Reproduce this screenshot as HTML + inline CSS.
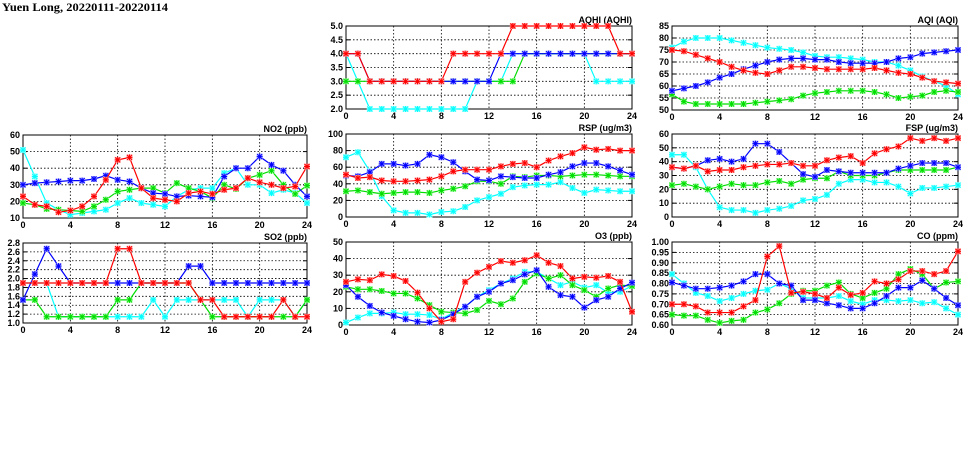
<!DOCTYPE html>
<html><head><meta charset="utf-8"><style>
body{margin:0;background:#fff;width:975px;height:447px;overflow:hidden}
svg text{font-family:"Liberation Sans",sans-serif;font-weight:bold;font-size:9px;fill:#000}
</style></head><body>
<svg id="s" width="975" height="447" xmlns="http://www.w3.org/2000/svg">
<text x="2" y="11" style="font-family:'Liberation Serif',serif;font-size:12px" textLength="166" lengthAdjust="spacingAndGlyphs">Yuen Long, 20220111-20220114</text>
</svg>
<script>
const C={r:"#ff0000",b:"#0000ff",g:"#00dd00",c:"#00ffff"};
const L={r:"#ffaaaa",b:"#aaaaff",g:"#aaffaa",c:"#aaffff"};
const P=[
{t:"NO2 (ppb)",x0:23,x1:307,y0:135,y1:218,min:10,max:60,step:10,dec:0,s:{
c:[51,35,19,15,12,13,14,15,19,22,19,18,17,23,27,28,28,37,40,30,30,25,27,25,19],
b:[30,31,31.5,32,32.5,32.5,33.5,35.5,33,32,28,25,24.5,23,23.5,23,22.5,35,40,40,47,42,38.5,30,23],
g:[19,18,15.5,15,14.5,14,17,21,26,27,28,28,25,31,28,26,22,30,27.5,34,36,38.5,30,24.5,29.5],
r:[23,18,17,13.5,14.5,17,23,33,45,46.5,28,22,21,20,25,26,24.5,27,28,34,31.5,30,28,29,41]}},
{t:"SO2 (ppb)",x0:23,x1:307,y0:243,y1:323,min:1,max:2.8,step:0.2,dec:1,s:{
c:[1.9,1.9,1.9,1.14,1.14,1.14,1.14,1.14,1.14,1.14,1.14,1.52,1.14,1.52,1.52,1.52,1.52,1.52,1.52,1.14,1.52,1.52,1.52,1.14,1.52],
g:[1.52,1.52,1.14,1.14,1.14,1.14,1.14,1.14,1.52,1.52,1.9,1.9,1.9,1.9,1.9,1.52,1.14,1.14,1.14,1.14,1.14,1.14,1.14,1.14,1.52],
b:[1.52,2.1,2.67,2.28,1.9,1.9,1.9,1.9,1.9,1.9,1.9,1.9,1.9,1.9,2.28,2.28,1.9,1.9,1.9,1.9,1.9,1.9,1.9,1.9,1.9],
r:[1.9,1.9,1.9,1.9,1.9,1.9,1.9,1.9,2.67,2.67,1.9,1.9,1.9,1.9,1.9,1.52,1.52,1.14,1.14,1.14,1.14,1.14,1.52,1.14,1.14]}},
{t:"AQHI (AQHI)",x0:346,x1:632,y0:26,y1:109,min:2,max:5,step:0.5,dec:1,s:{
c:[4,3,2,2,2,2,2,2,2,2,2,3,3,3,4,4,4,4,4,4,4,3,3,3,3],
g:[3,3,3,3,3,3,3,3,3,3,3,3,3,3,3,4,4,4,4,4,4,4,4,4,4],
b:[4,4,3,3,3,3,3,3,3,3,3,3,3,4,4,4,4,4,4,4,4,4,4,4,4],
r:[4,4,3,3,3,3,3,3,3,4,4,4,4,4,5,5,5,5,5,5,5,5,5,4,4]}},
{t:"RSP (ug/m3)",x0:346,x1:632,y0:134,y1:217,min:0,max:100,step:20,dec:0,s:{
c:[72,78,55,25,8,5,5,3,6,7,12,20,24,28,36,38,39,39,42,35,29,33,32,31,31],
g:[31,32,30,28,29,30,30,29,32,34,37,43,43,40,49,48,50,50,49,50,51,51,50,49,49],
b:[50,49,54,64,64,62,64,75,72,66,55,45,44,49,48,47,47,51,54,61,65,65,61,56,51],
r:[51,47,48,44,43,43,44,45,49,55,57,57,57,61,64,65,60,68,73,77,84,81,82,80,80]}},
{t:"O3 (ppb)",x0:346,x1:632,y0:242,y1:325,min:0,max:50,step:10,dec:0,s:{
c:[1.5,4.5,7,7,7.5,6.5,6.5,6,3.5,7.5,11,17,21,25,28,32,32,28,24,26,22.5,24,19.5,20,23.5],
g:[23,21.5,21.5,20.5,19,19,16,12,8,7.5,7,9,14.5,12.5,16,26,31,28,30,24,21,17,22,24,23.5],
b:[24,17,11.5,7.5,5.5,3.5,2,1.5,3,6.5,11,17,20,25,27,30.5,33,23,18,17,10.5,15,17,22,25.5],
r:[26,27.5,27,30.5,29.5,26.5,19.5,10,2,3.5,26,31.5,35,38.5,37.5,39,42,37.5,35.5,28,29,28.5,29.5,26,8]}},
{t:"AQI (AQI)",x0:672,x1:958,y0:26,y1:110,min:50,max:85,step:5,dec:0,s:{
c:[76,78.5,80,80,80,79,78,77,76,75.5,75,74,72.5,72,72,71.5,71,70,70,68.5,66.5,64,62,60,56.5],
g:[56.5,53.5,52.5,52.5,52.5,52.5,52.5,53,53.5,54,54.5,56,57,57.5,58,58,58,57.5,56.5,55,55.5,56,57.5,58,57.5],
b:[58,59,60,61.5,63.5,65,67,68.5,70,71,71.5,71.5,71,71,70,69.5,69.5,69.5,70,71.5,72,73.5,74,74.5,75],
r:[75,74.5,73,71.5,70,68,66.5,65.5,65,66.5,68,68,67.5,67,67,67,67,67.5,66.5,65.5,65,63.5,62,61.5,61]}},
{t:"FSP (ug/m3)",x0:672,x1:958,y0:134,y1:217,min:0,max:60,step:10,dec:0,s:{
c:[45,45,36,20,7,5,5,3,5,6,8,12,13,16,24,27,27,25,25,22,17,21,21,22,23],
g:[23,24,22,20,22,24,23,23,25,26,24,27,28,28,33,30,30,30,32,34,34,34,34,34,36],
b:[36,35,37,41,42,40,42,53,53,47,39,31,29,34,33,32,32,32,32,35,37,39,39,39,36],
r:[36,35,37,33,34,34,36,37,38,38,39,37,37,41,43,44,39,46,49,51,57,55,57,55,57]}},
{t:"CO (ppm)",x0:672,x1:958,y0:242,y1:325,min:0.6,max:1.0,step:0.05,dec:2,s:{
c:[.845,.8,.755,.74,.715,.73,.75,.765,.77,.80,.775,.73,.73,.73,.74,.715,.70,.72,.72,.715,.72,.705,.71,.68,.65],
g:[.65,.645,.645,.625,.61,.62,.625,.66,.675,.705,.75,.765,.765,.79,.805,.75,.73,.755,.775,.845,.87,.845,.775,.805,.81],
b:[.805,.79,.775,.775,.78,.79,.81,.845,.845,.80,.79,.72,.72,.705,.695,.68,.68,.705,.74,.78,.78,.815,.775,.73,.695],
r:[.70,.70,.69,.66,.66,.66,.69,.72,.93,.98,.755,.76,.75,.73,.78,.745,.755,.81,.80,.82,.86,.86,.845,.86,.955]}}
];
let h="";
for(const p of P){
 const X=i=>p.x0+(p.x1-p.x0)*i/24, Y=v=>p.y1-(p.y1-p.y0)*(v-p.min)/(p.max-p.min);
 const n=Math.round((p.max-p.min)/p.step);
 for(let k=0;k<=n;k++){const v=p.min+k*p.step,y=Y(v);
  if(k>0&&k<n)h+=`<line x1="${p.x0}" x2="${p.x1}" y1="${y}" y2="${y}" stroke="#000" stroke-width="0.8" stroke-dasharray="1.5,2"/>`;
  h+=`<line x1="${p.x0}" x2="${p.x0+4}" y1="${y}" y2="${y}" stroke="#000"/><line x1="${p.x1-4}" x2="${p.x1}" y1="${y}" y2="${y}" stroke="#000"/>`;
  h+=`<text x="${p.x0-3}" y="${y+3}" text-anchor="end">${v.toFixed(p.dec)}</text>`;}
 for(let i=0;i<=24;i+=4){const x=X(i);
  if(i>0&&i<24)h+=`<line x1="${x}" x2="${x}" y1="${p.y0}" y2="${p.y1}" stroke="#000" stroke-width="0.8" stroke-dasharray="1.5,2"/>`;
  h+=`<text x="${x}" y="${p.y1+10}" text-anchor="middle">${i}</text>`;}
 h+=`<rect x="${p.x0}" y="${p.y0}" width="${p.x1-p.x0}" height="${p.y1-p.y0}" fill="none" stroke="#000"/>`;
 h+=`<text x="${p.x1}" y="${p.y0-3}" text-anchor="end">${p.t}</text>`;
 for(const k of ["c","g","b","r"]){const d=p.s[k];
  h+=`<polyline fill="none" stroke="${C[k]}" stroke-width="1.2" points="${d.map((v,i)=>X(i)+","+Y(v)).join(" ")}"/>`;
  for(let i=0;i<d.length;i++){const x=X(i),y=Y(d[i]);
   h+=`<rect x="${x-3}" y="${y-3}" width="6" height="6" fill="${L[k]}"/><path d="M${x-3} ${y}H${x+3}M${x} ${y-3}V${y+3}M${x-2.5} ${y-2.5}L${x+2.5} ${y+2.5}M${x-2.5} ${y+2.5}L${x+2.5} ${y-2.5}" stroke="${C[k]}" stroke-width="1"/>`;}
 }
}
document.getElementById("s").insertAdjacentHTML("beforeend",h);
</script>
</body></html>
